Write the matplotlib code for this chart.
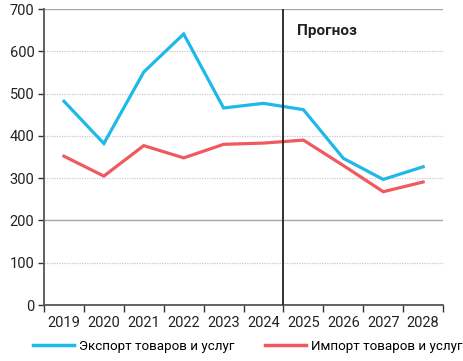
import matplotlib
matplotlib.use("Agg")
import matplotlib.pyplot as plt
from matplotlib.lines import Line2D

years = ["2019", "2020", "2021", "2022", "2023", "2024", "2025", "2026", "2027", "2028"]
export_vals = [482, 382, 551, 641, 466, 477, 462, 347, 297, 327]
import_vals = [352, 305, 377, 348, 380, 383, 390, 330, 268, 291]
export_label = "Экспорт товаров и услуг"
import_label = "Импорт товаров и услуг"
forecast_label = "Прогноз"

plt.rcParams['font.family'] = ['Roboto', 'DejaVu Sans']

fig = plt.figure(figsize=(4.63, 3.61), dpi=100)
ax = fig.add_axes([0.095, 0.155, 0.862, 0.82])

blue = "#1EB9E8"
red = "#F05A5E"

x = list(range(len(years)))
ax.plot(x, export_vals, color=blue, lw=2.3, solid_joinstyle='miter', zorder=3)
ax.plot(x, import_vals, color=red, lw=2.3, solid_joinstyle='miter', zorder=3)

ax.set_xlim(-0.5, len(years) - 0.5)
ax.set_ylim(0, 700)

# gridlines
for v in [100, 300, 400, 500, 600]:
    ax.axhline(v, color="#c8c8d0", lw=0.9, ls=(0, (1, 1)), zorder=1)
for v in [200, 700]:
    ax.axhline(v, color="#a8a8a8", lw=1.0, zorder=1)

ax.axvline(5.5, color="#222222", lw=1.3, zorder=4)
ax.text(5.85, 648, forecast_label, fontsize=11, fontweight='bold', color="#222222",
        va='center', ha='left')

ax.set_yticks(range(0, 701, 100))
ax.set_xticks(x)
ax.set_xticklabels(years)
ax.set_xticks([i - 0.5 for i in range(len(years) + 1)], minor=True)
ax.tick_params(axis='x', which='major', length=0, labelsize=10.5, pad=8, colors="#222222")
ax.tick_params(axis='x', which='minor', length=5, width=1.0, color="#333333")
ax.tick_params(axis='y', length=4, width=1.0, labelsize=10.5, color="#333333", labelcolor="#222222", pad=3)

for s in ['top', 'right']:
    ax.spines[s].set_visible(False)
for s in ['left', 'bottom']:
    ax.spines[s].set_color("#555555")
    ax.spines[s].set_linewidth(1.3)

handles = [Line2D([0], [0], color=blue, lw=2.5), Line2D([0], [0], color=red, lw=2.5)]
fig.legend(handles, [export_label, import_label], loc='lower center', ncol=2,
           bbox_to_anchor=(0.535, -0.01), frameon=False, fontsize=9.6,
           handlelength=3.1, handletextpad=0.35, columnspacing=2.3)

fig.savefig("out.png", dpi=100)
